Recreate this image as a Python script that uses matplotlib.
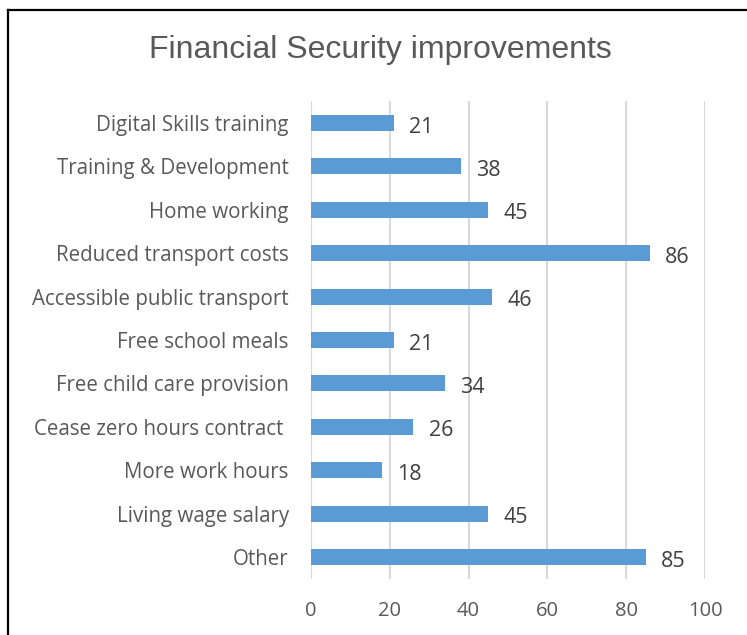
import matplotlib
matplotlib.use("Agg")
import matplotlib.pyplot as plt
from matplotlib.lines import Line2D

categories = ["Digital Skills training", "Training & Development", "Home working",
              "Reduced transport costs", "Accessible public transport", "Free school meals",
              "Free child care provision", "Cease zero hours contract ", "More work hours",
              "Living wage salary", "Other"]
values = [21, 38, 45, 86, 46, 21, 34, 26, 18, 45, 85]
xticks = [0, 20, 40, 60, 80, 100]

W, H = 747, 635
fig = plt.figure(figsize=(W / 100, H / 100), dpi=100)
ax = fig.add_axes([311 / W, 1 - 578.7 / H, 394 / W, (578.7 - 101.3) / H])

text_color = "#595959"
font = "Open Sans"

pos = list(range(len(categories)))
ax.barh(pos, values, height=0.37, color="#5B9BD5", zorder=3)
ax.set_ylim(len(categories) - 0.5, -0.5)
ax.set_xlim(0, 100)
ax.set_xticks(xticks)
ax.set_xticklabels([str(t) for t in xticks], fontsize=14.5, color=text_color, family=font)
ax.set_yticks(pos)
ax.set_yticklabels(categories, fontsize=14.8, color=text_color, family=font)
ax.tick_params(axis="both", length=0)
ax.tick_params(axis="x", pad=16)
ax.tick_params(axis="y", pad=16)
ax.grid(axis="x", color="#D9D9D9", linewidth=1.5, zorder=0)
for s in ax.spines.values():
    s.set_visible(False)
ax.axvline(0, color="#D9D9D9", linewidth=1.5, zorder=1)

for p, v in zip(pos, values):
    ax.annotate(str(v), (v, p), xytext=(11, -3), textcoords="offset points",
                ha="left", va="center", fontsize=15.5, color="#404040", family=font)

fig.text(380 / W, 1 - 50 / H, "Financial Security improvements", ha="center", va="center",
         fontsize=23, color=text_color, family="Liberation Sans")

# frame lines
fig.add_artist(Line2D([8 / W, 8 / W], [0, 1 - 10 / H], transform=fig.transFigure,
                      color="black", linewidth=1.6))
fig.add_artist(Line2D([8 / W, 1], [1 - 10 / H, 1 - 10 / H], transform=fig.transFigure,
                      color="black", linewidth=1.6))

fig.savefig("out.png", dpi=100)
